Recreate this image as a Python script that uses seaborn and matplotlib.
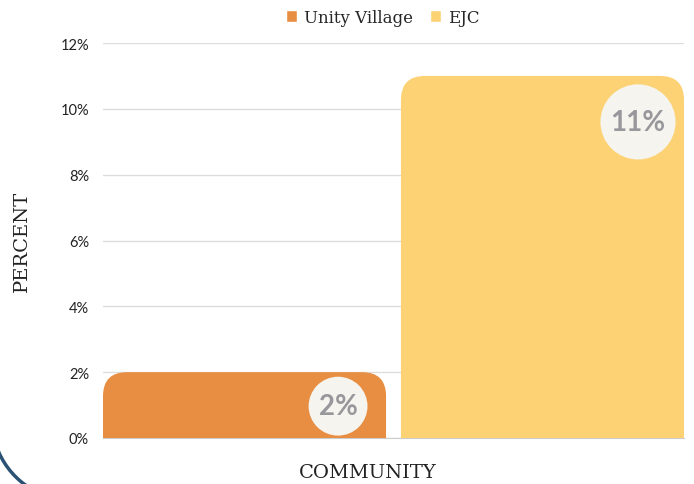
import numpy as np
import pandas as pd
import matplotlib.pyplot as plt
import seaborn as sns
from matplotlib.patches import FancyBboxPatch, Arc
from matplotlib.ticker import PercentFormatter

communities = ["Unity Village", "EJC"]
percents = [0.02, 0.11]
colors = ["#E88E42", "#FCD275"]
y_ticks = [0, 0.02, 0.04, 0.06, 0.08, 0.10, 0.12]

df = pd.DataFrame({"group": ["all"] * len(communities),
                   "community": communities,
                   "percent": percents})

sns.set_style("white")
plt.rcParams["font.family"] = ["Lato", "DejaVu Sans"]

W, H = 694, 485
fig = plt.figure(figsize=(W / 100, H / 100), dpi=100)
ax = fig.add_axes([103 / W, 1 - 439 / H, 581 / W, 395 / H])

sns.barplot(data=df, x="group", y="percent", hue="community", saturation=1,
            palette=colors, width=1, gap=0.05, ax=ax, zorder=3)

bars = list(ax.patches)
x0 = min(p.get_x() for p in bars)
x1 = max(p.get_x() + p.get_width() for p in bars)
ax.set_xlim(x0, x1)
ax.set_ylim(0, 0.12)

# rounded top corners
px_x = 581 / (x1 - x0)
px_y = 395 / 0.12
r_px = 24
rx, ry = r_px / px_x, r_px / px_y
for p in bars:
    x, w, h = p.get_x(), p.get_width(), p.get_height()
    rp = FancyBboxPatch((x, -ry), w, h + ry,
                        boxstyle=f"round,pad=0,rounding_size={rx}",
                        mutation_aspect=ry / rx, fc=p.get_facecolor(),
                        ec="none", zorder=3, clip_on=True)
    ax.add_patch(rp)
    p.set_visible(False)

# value bubbles
offsets = [(-48, -34), (-46, -46)]
for p, v, off in zip(bars, percents, offsets):
    ax.annotate(f"{v * 100:.0f}%", xy=(p.get_x() + p.get_width(), p.get_height()),
                xytext=off, textcoords="offset pixels", ha="center", va="center",
                fontsize=20, fontweight="bold", color="#98989C", zorder=5,
                bbox=dict(boxstyle="circle,pad=0.36", fc="#F5F4EE", ec="none"))

ax.set_yticks(y_ticks)
ax.yaxis.set_major_formatter(PercentFormatter(1.0, decimals=0))
ax.tick_params(axis="y", labelsize=10.5, colors="#222222", length=0, pad=10)
ax.set_xticks([])
ax.grid(axis="y", color="#DDDDDD", lw=1, zorder=0)
ax.set_axisbelow(True)
for s in ["top", "right", "left"]:
    ax.spines[s].set_visible(False)
ax.spines["bottom"].set_color("#CCCCCC")

ax.set_xlabel("COMMUNITY", fontsize=14, family="DejaVu Serif", color="#222222")
ax.xaxis.set_label_coords(0.455, -0.063)
ax.set_ylabel("PERCENT", fontsize=14, family="DejaVu Serif", color="#222222")
ax.yaxis.set_label_coords(-0.124, 0.5)

sns.move_legend(ax, "center", bbox_to_anchor=(0.482, 1.065), ncol=2, frameon=False,
                title=None, handlelength=0.65, handleheight=0.65, handletextpad=0.45,
                columnspacing=1.0, prop={"family": "DejaVu Serif", "size": 12})

# decorative arc bottom-left
fig.patches.append(Arc((72, 64), 160, 160, theta1=195, theta2=265, color="#2B5275",
                       lw=2.5, transform=None))

fig.savefig("out.png", dpi=100)
